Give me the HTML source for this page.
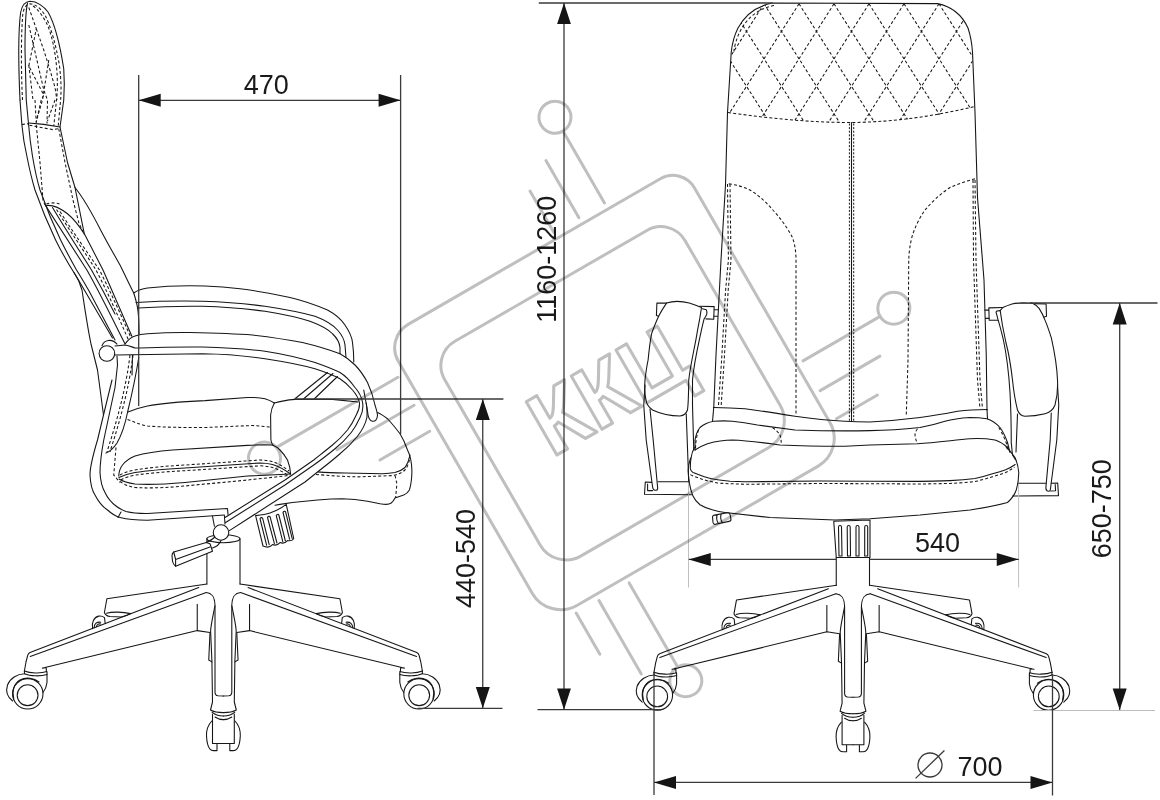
<!DOCTYPE html>
<html lang="ru"><head><meta charset="utf-8"><title>Chair dimensions</title>
<style>
html,body{margin:0;padding:0;background:#fff;}
body{width:1160px;height:800px;overflow:hidden;}
svg{display:block;}
.d{fill:none;stroke:#161616;stroke-width:1.08;stroke-linecap:round;stroke-linejoin:round;}
.w{fill:#fff;stroke:#161616;stroke-width:1.08;stroke-linejoin:round;}
.s{fill:none;stroke:#161616;stroke-width:1.05;stroke-dasharray:3 2.2;}
.m{fill:none;stroke:#3a3a3a;stroke-width:1.3;}
.e{fill:none;stroke:#3a3a3a;stroke-width:1.3;}
.a{fill:#151515;stroke:none;}
.wm{fill:none;stroke:#bfbfbf;stroke-width:3;stroke-linecap:round;stroke-linejoin:round;}
text{font-family:"Liberation Sans",sans-serif;}
.t{font-size:27px;fill:#1a1a1a;text-anchor:middle;}
</style></head><body>
<svg width="1160" height="800" viewBox="0 0 1160 800">
<rect width="1160" height="800" fill="#fff"/>
<!-- side -->
<g id="side">
<!-- headrest & back outer -->
<path class="d" d="M20,100 C18.4,65 18.4,30 20.6,12.5 C22,5 25.5,1.6 30,1.3 C37,1.3 44,6.5 48,12 C55,24 60,45 63.75,68.75 C64.6,80 64.4,90 63.75,100 L60,127 L67.5,162.5 L75,187.5 L84.4,234.4"/>
<path class="d" d="M20,100 L21.9,125 C23,137 25,148 26.9,156.25 C29,167 32,180 35,190 C41,207 48,224 55.6,240 C62,253 69,265 76.25,276.25 L112.5,338"/>
<path class="d" d="M27.5,2.8 C25.5,12 25,35 25,50 L26.25,100 L28.5,123.75 C29.5,136 31,147 32.5,156.25 C34.5,168 37,180 40,190 C46,207 53,224 60.6,240 C66,251 71.5,261 76.5,270 C81,277 85,284 88.5,290 L115,340"/>
<path class="d" d="M28.5,123 L43.75,124.4 L60,127"/>
<path class="s" d="M21.9,124.4 L28.5,123.75"/>
<path class="s" d="M29.4,125.2 L52.5,129.6 L59.4,128.4"/>
<!-- headrest stitching -->
<path class="s" d="M22.5,100 C21,70 21,35 22.8,14 C24,7 27,4 30,3.8 C36,4 41,9 45,15 C51,27 56,45 59.5,66 C61.3,80 61.3,92 60.6,100 L58.2,126"/>
<path class="s" d="M33,6 C39,10 44,18 47.5,25 C52,36 55,50 56.5,66 C57.8,80 57.5,92 56.5,100 L53.8,126"/>
<path class="s" d="M28.8,7.5 L36.3,28.8 L28.8,66 L43.8,95 L41.2,100 L36.3,122"/>
<path class="s" d="M28.8,25 L43.8,90 L47.5,100 L47,123.5"/>
<path class="s" d="M48.8,60 L42.5,100 L36.3,121"/>
<path class="s" d="M36.3,28.8 L43.75,50 L50,70 L55,87.5 L56.9,100"/>
<path class="s" d="M28.75,65 L33,100"/>
<path class="s" d="M35,100 L36.3,123.5"/>
<path class="s" d="M55,100 L47.5,121"/>
<!-- back stitches -->
<path class="s" d="M36.25,125 L40,162.5 L43,200 L45,205"/>
<path class="s" d="M58.75,128.75 L65,162.5 L73,200 L78.75,222.5 L83,232"/>
<!-- back right outer -->
<path class="d" d="M75,187.5 C85,200 93,215 101.25,231.25 C109,246 115,256 120,265 C126,277 130,286 133.75,293 C136,300 137.5,306 138,311 C139,320 139,328 139,334"/>
<!-- lumbar cushion -->
<path class="d" d="M45.6,205.6 C52,204.5 60,208 67.5,213.75 C74,219 80,227 85,235 L103,270 L131.9,336.25"/>
<path class="d" d="M45.6,205.6 C60,228 74,250 86.9,270 C100,293 112,318 125,343.75"/>
<path class="d" d="M52.5,207.5 C66,230 79,250 91.5,270 C100,285 108,300 115,314"/>
<path class="s" d="M56.5,209.5 C70,231 84,251 96,270 C108,293 118,316 128.5,340"/>
<path class="s" d="M60,211.5 C73,232 87,252 99.5,270 C111,293 121,315 130.8,337.5"/>
<path class="s" d="M46.5,204 C50,202.5 55,202.5 59.5,204"/>
<!-- branch lower shell -->
<path class="d" d="M74,272.5 C78,278.5 80.5,284 82,290 C84,303 87.5,328 91.25,345 L97.5,370 L103.5,415"/>
<path class="d" d="M112,380 L103.5,415 L97.5,440 C93,455 90,465 90,475 C90.5,485 93,492 95,495 C99,503 103,507 107.5,510 C112,514 116,516.5 120,517.5 C128,519.5 138,520.2 147.5,520.2 L224.4,515"/>
<path class="d" d="M117,356 L117.5,365 L115,387.5 L103.75,440 C101,455 100,465 100,472.5 C100.5,482 103,489 105,492.5 C108,499 112,503 116,506 C120,509 123,510.5 126,511.5 C133,513.2 140,513.6 147.5,513.5 L227.5,508.5 L228,514.4"/>
<path class="d" d="M118,517.5 L121,512"/>
<path class="d" d="M212.5,516.25 L214.4,526.25 M224.4,515.6 L225,524"/>
<!-- joint circle -->
<path class="d" d="M102,345.8 C104,340 112,338 117,344.2"/>
<circle class="w" cx="106.9" cy="353.5" r="7.8"/>
<!-- below joint -->
<path class="s" d="M130,355 C127,380 122,400 118,415 C114,430 110,442 107,452"/>
<path class="s" d="M133,355 C130,380 125,400 121,415 C117,430 113,442 110,452"/>
<path class="d" d="M138.75,357.5 C136,375 131,398 127.5,412.5 C125,425 121,436 117,443 C113,449 109,452 106,453"/>
<path class="d" d="M132.5,355 L132,375"/>
<path class="s" d="M116,447.5 L113.75,475 L120,482.5"/>
<!-- seat -->
<path class="d" d="M128,412 C134,409.5 140,407.5 147.5,406 C165,402.5 185,401.5 205,400.6 L247.5,397.5 C255,397.3 262,398 265,398.75 C269,400 272,401.5 274.4,403"/>
<path class="s" d="M127.5,419.4 C134,422 140,424.5 147.5,426 C165,427.5 185,427.5 205,427.5 L252.5,425.5 L270,427"/>
<path class="d" d="M274.4,403 C281,401 288,400 295,399.4 L332.5,399.4 L358,402"/>
<path class="d" d="M274.4,403 C272,407 271,411 270.6,415 L270.9,440 C271.4,443 272.2,444.4 273.2,445.3"/>
<path class="d" d="M377.5,412.5 C381,414 384.5,416.5 387.5,418.75 C392,423.5 396,428.5 400,433.75 C403,438.5 405.5,444 407.5,450 C409,453 410,456 410.6,458.75 C411.5,463 411.9,467 411.9,471.25 C411.9,475 411.7,478 411.25,481.25 C410.8,484.5 410.2,487.5 409.4,490 C408,492.5 406,494 403.75,495 L395,498 C394,500 392.8,501.8 391.25,503 C389.8,504 388,504.4 386.25,504.4 C384,504.4 382,504.1 380,503.75 L367.5,501.25 C359,499.8 351,499 342.5,498.75 C334,498.8 326,499.3 317.5,500 L292.5,502.5 L280,504.4 L275,505.2"/>
<path class="d" d="M317.5,471.9 C327,472.8 336,473 345,473 L382.5,473.75 C387,473.6 391,473.2 395,472.5 C399,471.5 402.5,469.8 405,467.5 C407.5,464 409,460 410,455"/>
<path class="s" d="M316,474.4 C330,475.8 344,476.5 357.5,476.9 L392.5,475.6 C397,474.8 401.5,473 405,470 C407,467.5 408.5,464 409.4,460"/>
<path class="s" d="M395,475.5 L396.9,483.75 L395.6,498"/>
<!-- lower cushion -->
<path class="d" d="M118.75,476 C119,471 120.5,467.5 122.5,465 C126,460.5 130,458 135,456 C147,452.5 160,451 172.5,450 L247.5,445.4 C257,444.8 266,444.8 272.5,445 C275.5,446.2 278,448 280,450 C283,453 285.5,456.5 287.5,460 C289.3,464.5 290.3,469 290.6,474"/>
<path class="s" d="M120,475 C124,472.5 129,471 135,470 C151,467.3 168,466 185,465 L260,460 C266,460.2 271,461 275,462.5 C281,465 285,468 289,471"/>
<path class="d" d="M119,477.5 C124,475 129,473.5 135,472.5 C151,470 168,469 185,468 L260,463 C265,463 269,463.6 272.5,464.5 C279,466.5 285,470 290.6,474"/>
<path class="s" d="M121,480 C124,477.8 129,476.2 135,475.2 C151,472.8 168,471.6 185,470.7 L260,465.8 C265,466 269,466.6 272.5,467.5 C278,469.2 283,472 288,475"/>
<path class="d" d="M119,479 C123,481.5 128,483 135,484 C151,485 168,484 185,482.5 L247.5,476 L290.6,474"/>
<path class="s" d="M120,481.5 C124,484.5 129,486.5 135,487.5 C151,488.5 168,487.5 185,486 L247.5,480 L285,476 L290,475"/>
<!-- armrest pad -->
<path class="d" d="M133.75,293 C138,290 143,288.5 147.5,288 C165,286 190,285.5 205,286 C220,286.5 230,287.5 240,288.75 C258,291 275,294 290,297.5 C305,301 318,306 327.5,310 C335,314 341,319 345,325 C349,331 352,337 352.5,342.5 C353.5,350 353.8,355 353.75,362"/>
<path class="d" d="M136,302.5 C160,301 185,300.8 202.5,301.25 C225,302 245,303.5 265,306.25 C283,309 300,312 315,316.25 C325,320 332,324 337.5,330 C342,335 344.5,340 345,345 L346,357.5"/>
<path class="d" d="M138,308 C160,306.5 185,306 202.5,306.25 C225,307 245,308.5 265,311.25 C282,314 297,317 310,321.25 C320,325 328,329 332.5,333.75 C337,338 339.5,343 340,347.5 L340,353.75"/>
<!-- arm tube -->
<path d="M352.5,390 C356,394 358.5,398 359.4,402.5 C360,407 358.5,411 356.25,415 C354,420 351,425.5 347.5,430 C343,435.5 338,440.5 332.5,445 C327,449.5 320,455 313.75,460 L285,480 L225,517.5 L229.4,530.6 L305,482 L320,470 C326.5,465 333.5,459.5 340,453.75 C346.5,448.5 352.5,442.5 357.5,436.25 C362,430.5 365.5,424 366.9,417.5 C367.3,413 367,408 366.3,403 Z" fill="#fff" stroke="none"/>

<path class="d" d="M125,344 C128,340 131,337 135,336 C139,334.5 143,334 147.5,333.75 C165,332.5 180,332.3 190,332.5 C212,333 232,333.5 252.5,335 C270,337 287,339.5 302.5,342.5 C317,346 330,350 340,353.75 C346,357 351,361 355,365 C360,370 364,376 367.5,382.5 C371,390 373.5,398 375,405 C376.5,410 377.5,413 377.5,415.5 C377,420 374.5,421.5 372.5,421.3 C370,421 368,417 367.5,411 L363.75,390"/>
<path class="d" d="M115,346 L125,345 C129,345.5 132,347 135,348 C137,348.2 139,348 140,348 C165,347 185,346.8 202.5,347 C225,347.5 247,349 265,351.25 C283,354 300,358 315,362.5 C325,366 333,369 340,372.5 C346,376 351,382 355,387.5 C359,392 361.5,397 362.5,402 C363.5,408 362,414 360,417.5 C357.5,423 354,429 351.25,432.5 C346,439 341,444 335,448.75 C328,454.5 321,460 313.75,465 L285,485 L225.6,522.5"/>
<path class="d" d="M115,355 C150,354.5 180,353.8 202.5,353.75 C225,354 247,356 265,358.75 C283,361.5 300,364.5 315,368.75 C325,372 333,375 340,378.75 C345,382 349,386 352.5,390 C356,394 358.5,398 359.4,402.5 C360,407 358.5,411 356.25,415 C354,420 351,425.5 347.5,430 C343,435.5 338,440.5 332.5,445 C327,449.5 320,455 313.75,460 L285,480 L225,517.5"/>
<path class="d" d="M366.3,403 C367,408 367.3,413 366.9,417.5 C365.5,424 362,430.5 357.5,436.25 C352.5,442.5 346.5,448.5 340,453.75 C333.5,459.5 326.5,465 320,470 L305,482 L229.4,530.6"/>
<!-- diagonal supports -->
<path class="d" d="M295,398.75 L327.5,372.5 M303.75,398.75 L333,373.5 M314.4,398.75 L337.5,376.5"/>
<!-- knob -->
<path class="d" d="M255.6,515.6 C261,515 266,514.3 270,513 C276,511 281.5,508 286.25,504.4 L293.75,538.75 C292,541 289.5,541 287.5,540.6 C285,543.5 282.5,543.5 280,542.6 C277.5,545.5 275,545.5 272.5,544.6 C270,547.5 266.5,547.6 263,546 Z"/>
<path class="d" d="M260,518.75 L266.6,545.2 M262.6,518.2 L269.2,544.6 M260,518.75 C260.5,517.5 262,517.2 262.6,518.2"/>
<path class="d" d="M267.5,517.5 L274.4,543.6 M270.1,516.9 L277,543 M267.5,517.5 C268,516.2 269.5,516 270.1,516.9"/>
<path class="d" d="M276.25,515.6 L282.8,541.6 M278.85,515 L285.4,541 M276.25,515.6 C276.8,514.3 278.2,514 278.85,515"/>
<path class="d" d="M283,512.5 L289.6,539.3 M285.6,511.8 L292.2,538.6 M283,512.5 C283.5,511.2 285,511 285.6,511.8"/>
<!-- column & lever -->
<path class="d" d="M206.9,538.75 V584 M240,538.75 V584"/>
<ellipse class="d" cx="223.4" cy="538.75" rx="16.5" ry="4"/>
<path class="w" d="M206.25,542.5 L173.75,552 C172.5,553 172,554 172,555.5 L172.5,561.25 C173,563.5 174,565 175.6,566.25 L212.5,551.25 L210,543.75 Z"/>
<path class="d" d="M175.6,559.4 L210,547 M173.75,552 L175.6,559.4 L175.6,566.25"/>
<path class="d" d="M206.25,542.5 C210,541 213,539 215,537 M212.5,548 C216,547 219.5,544.5 221.25,540"/>
<circle class="w" cx="221" cy="532.5" r="7.75"/>
</g>

<!-- base -->
<defs>
<g id="bh">
 <!-- far leg -->
 <path class="d" d="M206.9,584 L106.9,598.75 L104.4,612.5 C105.5,615.5 107.5,616.3 110,616.5 L121,617 C125,616.6 128,615.2 130.5,613.6"/>
 <path class="d" d="M106.5,613.2 C112,611.6 123,611.8 130.5,613.6"/>
 <path class="d" d="M92.6,628.6 C91.4,622.5 93.8,617.2 98.8,616.1 C101,615.8 103,616.4 104.5,617.6 L105.2,623.5"/>
 <path class="d" d="M94.2,627.8 C94,624 96.5,621.6 100.8,622.2"/>
 <path class="d" d="M96.5,626.6 C96.8,624.6 98.4,623.6 100.6,624"/>
 <!-- near leg -->
 <path class="d" d="M198.75,587.5 L30,652.6 C28.8,653.2 28.1,654.1 27.7,655.4 L26,662 L24.4,671"/>
 <path class="d" d="M206.25,592.5 L30.2,656.4"/>
 <path class="d" d="M206.25,592.5 C211.5,593 214.6,595.8 215,605 L215,692 C215,694.5 216,695.6 218,695.8 L223.4,696"/>
 <path class="d" d="M214.9,606 C213,616 211,624 210.6,631 L211.9,661 L212.5,702 L210.5,710 C214,712 219,712.6 223.4,712.6"/>
 <path class="d" d="M197.25,604.4 V630.6"/>
 <path class="d" d="M45,667.6 L197.25,630.6 L210,632.5 L208.75,660 L211.9,661.9"/>
 <!-- near caster -->
 <path class="d" d="M42.4,668.1 L46.2,667.5 L46.4,671.6"/>
 <path class="d" d="M24.4,671 C30,673.4 41,673.6 47,671.6 L47,682.5 C46.5,687 45,690 43,692.5"/>
 <path class="d" d="M24.5,673.8 C30,676.3 41,676.5 47,674.4"/>
 <path class="d" d="M24.4,671 L24.5,673.8 C17,674 10,678.5 7.5,685 C5.6,691 7.5,697 12.6,701"/>
 <circle class="d" cx="27.8" cy="693.8" r="15.2"/>
 <path class="d" d="M13.8,699 C11.5,691 14,683.5 20,680 C26,676.8 34,677.8 39,682"/>
 <circle class="d" cx="27.6" cy="695.2" r="10.4"/>
 <!-- center caster half -->
 <path class="d" d="M212,712.2 C215,715 219,716 223.4,716"/>
 <path class="d" d="M215,717 C218,719 221,719.6 223.4,719.6"/>
 <path class="d" d="M212.5,714 V743.5 H223.4"/>
 <path class="d" d="M211.8,721 C208,725 206.3,730 206.5,736 C206.8,742 208,747 210,749.2 C211,750.3 212,750.6 213.5,750.6 L217,750.6 L217,744"/>
</g>
<g id="base">
 <use href="#bh"/>
 <use href="#bh" transform="translate(446.8,0) scale(-1,1)"/>
</g>
</defs>
<use href="#base"/>
<use href="#base" transform="translate(629.6,1.2)"/>

<!-- front -->
<g id="front">
<defs><clipPath id="hc"><path d="M772.5,3 L937.5,3.6 C952,6.5 962,15 968,28 C971,37 972,45 972.5,52 L974.5,107 C935,117 895,122.5 852,122.5 C810,122.5 770,118.5 728,112.5 L731.25,52 C732,45 733.5,37 738,28 C745,15 757,6 772.5,3 Z"/></clipPath></defs>
<g clip-path="url(#hc)">
<path class="s" d="M618.4,-5 L704.3,130"/>
<path class="s" d="M664.6,-5 L578.7,130"/>
<path class="s" d="M653.4,-5 L739.3,130"/>
<path class="s" d="M699.6,-5 L613.7,130"/>
<path class="s" d="M688.4,-5 L774.3,130"/>
<path class="s" d="M734.6,-5 L648.7,130"/>
<path class="s" d="M723.4,-5 L809.3,130"/>
<path class="s" d="M769.6,-5 L683.7,130"/>
<path class="s" d="M758.4,-5 L844.3,130"/>
<path class="s" d="M804.6,-5 L718.7,130"/>
<path class="s" d="M793.4,-5 L879.3,130"/>
<path class="s" d="M839.6,-5 L753.7,130"/>
<path class="s" d="M828.4,-5 L914.3,130"/>
<path class="s" d="M874.6,-5 L788.7,130"/>
<path class="s" d="M863.4,-5 L949.3,130"/>
<path class="s" d="M909.6,-5 L823.7,130"/>
<path class="s" d="M898.4,-5 L984.3,130"/>
<path class="s" d="M944.6,-5 L858.7,130"/>
<path class="s" d="M933.4,-5 L1019.3,130"/>
<path class="s" d="M979.6,-5 L893.7,130"/>
<path class="s" d="M968.4,-5 L1054.3,130"/>
<path class="s" d="M1014.6,-5 L928.7,130"/>
<path class="s" d="M1003.4,-5 L1089.3,130"/>
<path class="s" d="M1049.6,-5 L963.7,130"/>
<path class="s" d="M1038.4,-5 L1124.3,130"/>
<path class="s" d="M1084.6,-5 L998.7,130"/>
</g>
<!-- backrest outline -->
<path class="d" d="M713.75,407.5 L716,355 L721,260 L725.5,185 L727.5,112.5 L731.25,52 C732,45 733.5,37 738,28 C745,15 757,6 772.5,3 L937.5,3.6 C952,6.5 962,15 968,28 C971,37 972,45 972.5,52 L975,112.5 L977.5,197.5 L984,280 L986.25,355 L987,410"/>
<path class="s" d="M774,5.5 C759,8.5 748,17 741,29.5 C736.5,38 734.5,46 733.8,52"/>
<path class="s" d="M728,112.5 C770,118.5 810,122.5 852,122.5 C895,122 935,116 974.5,106.5"/>
<!-- center seam -->
<path class="d" d="M851.5,122.5 V421"/>
<path class="s" style="stroke-dasharray:2 1.6;stroke-width:1" d="M849.4,123.5 V421 M853.7,123.5 V421"/>
<!-- side stitches -->
<path class="s" d="M727.5,184 L728.4,260 L725.6,290 L721.6,360 L718.5,405"/>
<path class="s" d="M730,184 L731,260 L728.2,290 L724.2,360 L721.2,405"/>
<path class="s" d="M975,180 L976,260 L980,380 L982.5,408.75"/>
<path class="s" d="M973,180 L973.5,260 L977.5,380 L980,408.75"/>
<!-- bolster curves -->
<path class="s" d="M728.75,183.75 C737,185 744,187 750,190 C760,196 768,204 775,212.5 C782,220 788,229 792.5,237.5 C795,245 796,252 796,260 L796,415"/>
<path class="s" d="M975,178.75 C966,181 958,184 950,187.5 C940,194 932,202 925,210 C920,217 915.5,226 912.5,235 C910,244 909,252 908.75,260 L908,360 L906.25,416"/>
<!-- backrest bottom & seat -->
<path class="d" d="M713.75,407.5 C725,407.6 735,408 745,408.75 C762,411 779,413.7 795,416.25 C812,418.7 829,420.5 845,421.25 C853,421.8 862,422 870,422 C887,421 904,419.5 920,417.5 C933,415.8 946,413.5 957.5,411.25 C967,410 977,409.5 987,409.5"/>
<path class="d" d="M713.75,407.5 L712.5,421.25"/>
<path class="d" d="M987,409.5 L987.5,418.75"/>
<path class="d" d="M695,450 L695,440 C696,434 698,430 700,427.5 C704,424 709,422 713.75,421.25 C720,420.8 727,420.8 732.5,421.25 C741,422 750,423.5 757.5,425 L795,430 C812,430.6 829,430.9 845,430.9 C853,430.9 862,430.8 870,430.6 C887,430.5 904,429.3 920,427.5 C929,426 938,423.5 945,421.25 C953,419 962,418 970,417.5 C976,417.5 982,418 987,418.75 C992,420.5 996.5,423.5 1000,427.5 C1003,431.5 1005.5,437 1007.5,442.5 L1010,452.5"/>
<path class="d" d="M695,450 C699,447.3 703,445.3 707.5,443.75 C716,441.3 725,440 732.5,440 C748,440.5 765,443 780,445 C802,446 824,446.3 845,446.25 L870,445 L917.5,443.75 C935,442.5 953,440.3 970,438.75 C979,438.3 988,438.8 995,440 C1000,441.5 1004,444.3 1007.5,447.5"/>
<path class="s" d="M698.5,430 C696.5,436 695.5,443 695.5,450"/>
<path class="s" d="M772.5,427.5 C776,430 778.5,432.5 780,435 C781,438 781.3,441.5 781.25,445"/>
<path class="s" d="M917.5,428.75 C915.8,431 915,433 915,435 C915.3,438 916.3,441 917.5,443.75"/>
<path class="s" d="M998.75,427.5 C1003,434 1006,442 1008.75,450"/>
<path class="d" d="M690.6,458 C689.2,462 688.3,466.5 688.2,470.6 C688.3,476 688.8,480 689.5,483.7 C690.3,488.5 691.5,492.5 693,496 C694.8,500 697,502.5 700,504.7 C704,507.2 708.5,508.8 713,510 C717,511.2 721,512 725,512.5 L770,517.5 L835,520 L870,518.75 L920,515 L970,510 C983,508 996,505.5 1007.5,502.5 C1011.5,499 1014.5,495 1016.25,490 C1018,484 1018.8,478 1018.75,472.5 C1018.3,467 1017,462 1015,457.5 C1012.5,453.5 1009.5,450 1006.25,447.5"/>
<path class="d" d="M694.5,447.5 C692.5,451 691.5,454.5 691.2,457.5 C690.5,461 690.2,465 690.4,468.9 C690.8,470.8 691.8,471.8 693,472.4 C697,474 700.5,475.5 704.4,476.7 C708.5,478 713,479 717.5,479.8 C721.5,480.5 726,481 730,481.3 L745,481.8 L820,481 L870,481.2 L920,481.4 C930,481.3 940,481 950,480.6 C958,480.2 967,479.5 975,478.5 C981,477.2 987,475.5 992.5,473.7 C997,472.5 1001.5,471.2 1005.6,469.7 C1009,468.3 1012.5,466.5 1015.2,464.5"/>
<path class="s" d="M690.4,474.6 C693.5,476.2 696.8,477.5 700,478.5 C705.5,480.3 711.5,481.8 717.5,482.9 C721.5,483.3 726,483.6 730,483.7 L745,484.3 L820,483.5 L870,483.7 L920,484 C930,483.9 940,483.7 950,483.4 C958,483 967,482.5 975,481.6 C981,480.2 987,478.5 992.5,476.7 C997,475.4 1001.5,474 1005.6,472.4 C1008.8,471 1011.8,469.2 1014.4,467.1"/>
<!-- left armrest -->
<path class="w" d="M666.5,303.1 C670,302 674,301.4 677,301.4 C681,301.4 685.5,302 689.2,303.1 C693.5,304.3 697.5,305.8 701.5,307.5 L699.7,318.9 C698.5,325 697.2,332 696.2,338.1 C693,355 690,368 688.75,380 C688.5,395 688.5,403 687.5,410 C686,414 684,415.5 680,416 C670,416 660,413.5 652.5,410 C648.5,407 646.5,404 646,400 C644.5,393 644.5,386 645,380 C645.8,373 646.8,366 648.1,360 C649,351 650,342 651.6,333.7 C653.5,328 656,322 658.6,316.2 C661,311.5 663.5,307.5 666.5,303.1 Z"/>
<path class="d" d="M666.5,303.1 H656.9 L656.4,315.4 L658.6,316.2"/>
<path class="d" d="M702.4,308.8 L706.3,309.7 C707,311 707,313 706.7,314.5 C706,316 705,317.5 704.1,318.9 C702.5,325 701,332 699.7,338.1 C696,355 693.5,368 692.5,380 L692.5,405 L693.75,450"/>
<path class="d" d="M699.7,306.2 L714.2,306.6 L713.7,319.3 L705.9,318.9"/>
<path class="d" d="M714.2,309.7 H718.1 M714,316.2 H717.6"/>
<path class="d" d="M645,385 L643.75,405 L646.2,440 L652.6,487 C653,489.5 653.6,490.3 655,490.3 L656.4,490.3 C657.5,490 657.8,489 657.6,487.2 L653.2,440 L650,409"/>
<path class="d" d="M686.25,414 L688.75,482.5"/>
<path class="d" d="M645.3,482 L644.5,494.3 L691.5,494.8 M645.3,482 L651.6,482.4 M658,481.8 H688.5 M647.6,484 V490.6 H652.6"/>
<!-- right armrest -->
<path class="w" d="M1002.8,307.5 C1006,306 1009,305 1012,304 C1015.5,303.3 1019,303 1022.5,302.9 L1032.1,303.1 C1035,304.5 1037.2,306.2 1039.1,308.4 C1041.5,312 1043.5,316 1045.2,320.6 C1047.5,326 1049.5,332 1051.4,338.1 C1054.5,352 1057,367 1057.5,380 C1058,390 1057,398 1055,405 C1053,410 1050,412.5 1045,413.75 C1038,415.5 1031,416.25 1025,416.25 C1021,416 1019,414 1017.5,410 C1015,400 1013.5,390 1012.5,380 C1011,367 1009,354 1005.9,342.5 L1002.4,325 L1000.2,310.6 Z"/>
<path class="d" d="M1034.7,303.6 L1046.1,304 L1046.5,316.2 L1044.4,317.1"/>
<path class="d" d="M1000.2,310.6 L997,311 C996,311.5 996,312.3 996.2,312.7 L998,319.7 C1000,326 1001.7,333 1003.2,339 C1006,352 1008.5,368 1010,392.5 C1011,410 1011.25,428 1011.25,442.5 L1012.5,455 L1015.3,459.5"/>
<path class="d" d="M1002.8,307.5 L988.8,307.9 L989.2,320.2 L998,320.2"/>
<path class="d" d="M984.9,310.1 H988.8 M985.6,318.4 H989"/>
<path class="d" d="M1057.5,385 L1058.75,405 L1056.8,440 L1051.1,483.7 L1050.4,489.5 C1050.2,490.8 1049.6,491.3 1048.5,491.2 L1047.5,491 C1046.3,490.6 1045.8,489.5 1045.9,487.2 L1050.2,440 L1051.25,413"/>
<path class="d" d="M1017.5,414 L1016,452"/>
<path class="d" d="M1018.5,483.3 H1045.8 M1051.3,483.3 L1057.7,483 L1058.5,495.6 L1012.5,496 M1050.8,491 L1055.6,490.8 L1055.2,484.5"/>
<!-- knob & column -->
<path class="d" d="M833.75,521.25 L836.25,557.5 H870 V520 M833.75,521.25 L870,520"/>
<path class="d" d="M838.5,527 C838.5,525 841.5,525 841.5,527 L842,556 H839 Z M847.2,527 C847.2,525 850.2,525 850.2,527 L850.5,556 H847.5 Z M856,527 C856,525 859,525 859,527 L859,556 H856 Z M864.7,527 C864.7,525 867.7,525 867.7,527 L867.7,556 H864.7 Z"/>
<path class="d" d="M836.25,557.5 V585.2 M869.5,557.5 V585.2"/>
<!-- small lever -->
<path class="d" d="M712.6,518 C712.2,516.4 713,515.4 714.4,515.1 L727.3,512.8 C728.8,512.5 729.8,513.2 730.1,514.6 L730.9,518.8 C731.2,520.2 730.5,521.1 729.1,521.4 L715.6,524.3 C714.2,524.6 713.3,523.9 713,522.5 Z M717.3,514.8 C716.2,517.5 716.6,520.5 718.3,523.4 M721.3,514 C720.2,516.8 720.6,519.8 722.3,522.6"/>

</g>
<!-- dims -->
<g id="dims">
<!-- 470 -->
<path class="m" d="M138.7,75 V406 M400.6,75 V434 M138.7,100.3 H400.6"/>
<path class="a" d="M138.7,100.3 L160.7,93.8 V106.8 Z M400.6,100.3 L378.6,93.8 V106.8 Z"/>
<text class="t" x="266.2" y="93.7">470</text>
<!-- 440-540 -->
<path class="e" d="M295,399 H503.4 M417.5,708.3 H502.5"/>
<path class="m" d="M482.75,398.9 V708.3"/>
<path class="a" d="M482.8,398.9 L475.8,420 H489.8 Z M482.8,708.3 L475.8,687 H489.8 Z"/>
<text class="t" transform="translate(475,558.4) rotate(-90) scale(1,1.04)">440-540</text>
<!-- 1160-1260 -->
<path class="e" d="M538.75,3 H772.5 M537.5,709.7 H661"/>
<path class="m" d="M564,3 V709.7"/>
<path class="a" d="M564,3 L557.1,24 H570.9 Z M564,709.7 L557.1,688.5 H570.9 Z"/>
<text class="t" transform="translate(556,259.3) rotate(-90) scale(1,1.04)">1160-1260</text>
<!-- 650-750 -->
<path class="e" d="M1030,303 H1157.5"/>
<path class="e" style="stroke:#bdbdbd;stroke-width:1" d="M1033.5,710.5 H1155"/>
<path class="m" d="M1119.7,303 V710"/>
<path class="a" d="M1119.7,303 L1112.7,324.5 H1126.7 Z M1119.7,710 L1112.7,688.4 H1126.7 Z"/>
<text class="t" transform="translate(1111,508.7) rotate(-90) scale(1,1.04)">650-750</text>
<!-- 540 -->
<path class="e" style="stroke:#c0c0c0;stroke-width:1" d="M688.5,482.5 V587.5 M1018.6,483.75 V587.5"/>
<path class="m" d="M688.75,559.4 H836.25 M869.5,559.4 H1018.75"/>
<path class="a" d="M688.75,559.4 L710.75,552.9 V565.9 Z M1018.75,559.4 L996.75,552.9 V565.9 Z"/>
<text class="t" x="937.5" y="551.8">540</text>
<!-- 700 -->
<path class="m" d="M654,672 V795 M1052.5,674 V795.5 M654,782.4 H1052.5"/>
<path class="a" d="M654,782.4 L676,775.9 V788.9 Z M1052.5,782.4 L1030.5,775.9 V788.9 Z"/>
<circle class="m" cx="930" cy="765" r="12"/>
<path class="m" d="M915.6,778.4 L944.4,750.5"/>
<text class="t" x="980" y="776">700</text>
</g>

<!-- wm -->
<g id="wm" class="wm" transform="rotate(-30)" style="mix-blend-mode:multiply">
<path d="M191.3,485 H482.5 A25,25 0 0 1 507.5,510 V780.8 A32,32 0 0 1 475.5,812.8 H197.3 A33,33 0 0 1 164.3,779.8 V512 A27,27 0 0 1 191.3,485 Z"/>
<path d="M223.3,523 H445 A28,28 0 0 1 473,551 V741 A31,31 0 0 1 442,772 H225.3 A30,30 0 0 1 195.3,742 V551 A28,28 0 0 1 223.3,523 Z"/>
<!-- left pins -->
<path d="M15.8,525.7 H156 M67,558 H156 M99,588.4 H156.5"/>
<circle cx="0" cy="529" r="16"/>
<!-- right pins -->
<path d="M515,714 H604 M515,748.4 H584 M515,780.8 H562.4"/>
<circle cx="620" cy="713.8" r="16"/>
<!-- top pins -->
<path d="M422,395 V478 M392.5,412 V478 M363.5,430.4 V478"/>
<circle cx="422" cy="379" r="16"/>
<!-- bottom pins -->
<path d="M253.4,819.4 V917 M218.4,819.6 V904.3 M192.4,819 V866.5"/>
<circle cx="253.6" cy="932.4" r="16"/>
<text transform="translate(332,672.5) scale(1,1.05)" x="0" y="0" text-anchor="middle" font-size="85" font-weight="bold" style="fill:none;stroke:#bfbfbf;stroke-width:3">ККЦ</text>
</g>

</svg>
</body></html>
